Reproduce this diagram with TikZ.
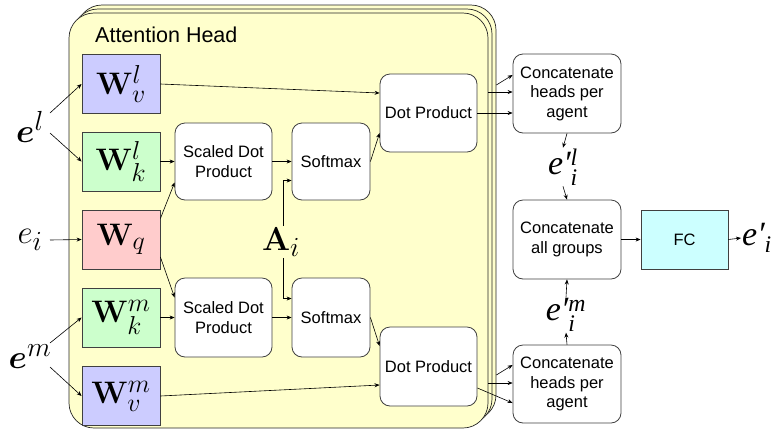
\documentclass[tikz,border=0pt]{standalone}
\usepackage{amsmath,bm,graphicx}
\usepackage[no-math]{fontspec}
\setmainfont{Liberation Sans}
\newfontfamily\tnr{Liberation Serif}
\usetikzlibrary{arrows.meta,calc}
\definecolor{panelbg}{HTML}{FFFFCC}
\definecolor{vcol}{HTML}{CCCCFF}
\definecolor{kcol}{HTML}{CCFFCC}
\definecolor{qcol}{HTML}{FFCCCC}
\definecolor{fccol}{HTML}{CCFFFF}
\definecolor{edge}{HTML}{404040}
\newcommand{\wmath}[1]{\scalebox{1.25}{$#1$}}
\newcommand{\lmath}[1]{\scalebox{1.33}{$#1$}}
\begin{document}
\begin{tikzpicture}[x=1pt,y=-1pt,
  panel/.style={draw=black!85, fill=panelbg, rounded corners=25pt, line width=0.7pt,
    minimum width=419pt, minimum height=415pt, inner sep=0pt},
  wbox/.style={draw=edge, line width=0.8pt, minimum width=78pt, minimum height=59pt,
    inner sep=0pt, font=\Huge},
  rbox/.style={draw=edge, fill=white, rounded corners=10pt, line width=0.8pt,
    align=center, inner sep=0pt, font=\fontsize{16.5}{19.5}\selectfont},
  lab/.style={inner sep=1pt, font=\Huge},
  tlab/.style={inner sep=1pt, font=\fontsize{34}{40}\selectfont\tnr\itshape},
  arr/.style={-{Stealth[length=5pt,width=4pt]}, line width=0.6pt, black}
]
\useasboundingbox (0,0) rectangle (779,432);
% stacked attention head panels
\node[panel] (ph3) at (286.5,212.5) {};
\node[panel] (ph2) at (282.5,216.5) {};
\node[panel] (ph1) at (278.5,220.5) {};
\node[anchor=west, inner sep=0pt, font=\fontsize{21.5}{25}\selectfont] (title) at (95,35) {Attention Head};
% weight boxes
\node[wbox, fill=vcol] (wvl) at (121,84) {\wmath{\mathbf{W}^l_v}};
\node[wbox, fill=kcol] (wkl) at (121,161.5) {\wmath{\mathbf{W}^l_k}};
\node[wbox, fill=qcol] (wq) at (121,239.5) {\wmath{\mathbf{W}_q}};
\node[wbox, fill=kcol] (wkm) at (121,317.5) {\wmath{\mathbf{W}^m_k}};
\node[wbox, fill=vcol] (wvm) at (121,396) {\wmath{\mathbf{W}^m_v}};
% processing boxes
\node[rbox, minimum width=97pt, minimum height=77pt] (sdpt) at (223.5,161.5) {Scaled Dot\\Product};
\node[rbox, minimum width=97pt, minimum height=79pt] (sdpb) at (223.5,317.5) {Scaled Dot\\Product};
\node[rbox, minimum width=78pt, minimum height=77pt] (smt) at (331,161.5) {Softmax};
\node[rbox, minimum width=78pt, minimum height=79pt] (smb) at (331,317.5) {Softmax};
\node[rbox, minimum width=97pt, minimum height=78pt] (dpt) at (428.5,113) {Dot Product};
\node[rbox, minimum width=97pt, minimum height=79pt] (dpb) at (428.5,366.5) {Dot Product};
\node[rbox, minimum width=108pt, minimum height=79pt] (cht) at (567,93.5) {Concatenate\\heads per\\agent};
\node[rbox, minimum width=108pt, minimum height=79pt] (cag) at (567,239.5) {Concatenate\\all groups};
\node[rbox, minimum width=108pt, minimum height=78pt] (chb) at (567,384) {Concatenate\\heads per\\agent};
\node[draw=edge, fill=fccol, line width=0.8pt, minimum width=87pt, minimum height=59pt,
  inner sep=0pt, font=\fontsize{16.5}{19.5}\selectfont] (fc) at (684.5,239.5) {FC};
% labels
\node[lab] (el) at (30,127) {\lmath{\bm{e}^l}};
\node[lab] (ei) at (30,240) {\lmath{e_i}};
\node[lab] (em) at (30,357) {\lmath{\bm{e}^m}};
\node[lab] (Ai) at (281,242) {\lmath{\mathbf{A}_i}};
\node[tlab] (epl) at (563,167) {e′$^{\text{\tnr\itshape l}}_{\text{\tnr\itshape i}}$};
\node[tlab] (epm) at (566,315) {e′$^{\text{\tnr\itshape m}}_{\text{\tnr\itshape i}}$};
\node[tlab, anchor=west] (epo) at (741,238) {e′$_{\text{\tnr\itshape i}}$};
% inputs
\draw[arr] ($(el)+(20,-14)$) -- (wvl.west);
\draw[arr] ($(el)+(20,6)$) -- (wkl.west);
\draw[arr] ($(ei)+(20,0)$) -- (wq.west);
\draw[arr] ($(em)+(20,-14)$) -- (wkm.west);
\draw[arr] ($(em)+(20,10)$) -- (wvm.west);
% inside head
\draw[arr] (wvl.east) -- ([yshift=20pt]dpt.west);
\draw[arr] (wkl.east) -- (sdpt.west);
\draw[arr] ([yshift=21pt]wq.east) -- ([yshift=-21pt]sdpt.west);
\draw[arr] ([yshift=-17.5pt]wq.east) -- ([yshift=20pt]sdpb.west);
\draw[arr] (wkm.east) -- (sdpb.west);
\draw[arr] (sdpt.east) -- (smt.west);
\draw[arr] (sdpb.east) -- (smb.west);
\draw[arr] ([xshift=2pt]Ai.north) |- ([yshift=-19pt]smt.west);
\draw[arr] ([xshift=2pt]Ai.south) |- ([yshift=19pt]smb.west);
\draw[arr] (smt.east) -- ([yshift=-20pt]dpt.west);
\draw[arr] (smb.east) -- ([yshift=20.5pt]dpb.west);
\draw[arr] (wvm.east) -- ([yshift=-18.5pt]dpb.west);
% outputs of heads
\draw[arr] ([yshift=8.5pt]cht.west -| ph3.east) -- ([yshift=18.5pt]cht.west);
\draw[arr] ([yshift=1.5pt]cht.west -| ph1.east) -- ([yshift=1.5pt]cht.west);
\draw[arr] (dpt.east) -- ([yshift=-19.5pt]cht.west);
\draw[arr] ([yshift=9pt]chb.west -| ph3.east) -- ([yshift=19pt]chb.west);
\draw[arr] ([yshift=1pt]chb.west -| ph1.east) -- ([yshift=1pt]chb.west);
\draw[arr] ([yshift=-21.5pt]dpb.east) -- ([yshift=-19pt]chb.west);
% right column
\draw[arr] (cht.south) -- (epl.north);
\draw[arr] (epl.south) -- (cag.north);
\draw[arr] (chb.north) -- (epm.south);
\draw[arr] (epm.north) -- (cag.south);
\draw[arr] (cag.east) -- (fc.west);
\draw[arr] (fc.east) -- (epo.west);
\end{tikzpicture}
\end{document}
